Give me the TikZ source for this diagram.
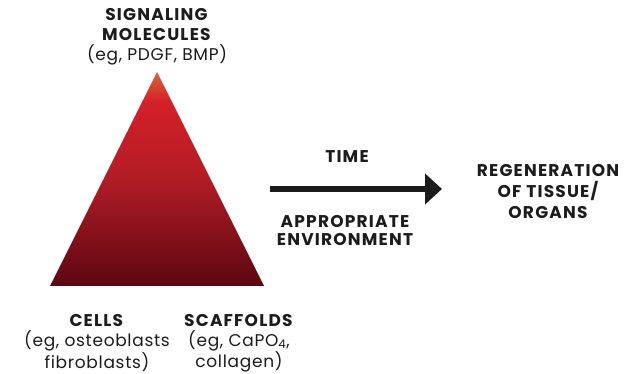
\documentclass[tikz,border=0pt]{standalone}
\usepackage{fontspec}
\setmainfont[UprightFeatures={LetterSpace=4}, BoldFeatures={LetterSpace=7}]{Poppins}
\usetikzlibrary{arrows.meta,positioning}
\definecolor{inkblack}{HTML}{1C1C1C}
\definecolor{redtip}{HTML}{D9643C}
\definecolor{redbright}{HTML}{D42028}
\definecolor{redmid}{HTML}{B11C25}
\definecolor{redbot}{HTML}{5C0711}
\pgfdeclareverticalshading{tri_red}{100bp}{color(0bp)=(redbot); color(25bp)=(redbot);
    color(50bp)=(redmid); color(68bp)=(redbright); color(75bp)=(redtip); color(100bp)=(redtip)}
\tikzset{
    label_text/.style = {align=center, text=inkblack, inner sep=0pt, font=\fontsize{17}{20}\selectfont},
    label_bold/.style = {label_text, font=\fontsize{17}{20}\selectfont\bfseries},
    big_arrow/.style = {-{Triangle[length=17pt, width=30pt]}, line width=6.5pt, draw=inkblack}
}
\begin{document}
\begin{tikzpicture}[x=1pt, y=-1pt]
    \useasboundingbox (0,0) rectangle (627,374);
    % TRIANGLE
    \coordinate (apex) at (157,72);
    \coordinate (base_left) at (50,286);
    \coordinate (base_right) at (264,286);
    \shade [shading=tri_red] (apex) -- (base_right) -- (base_left) -- cycle;
    % CORNER LABELS
    \node [label_text] (signaling) at (157,37) {\textbf{SIGNALING}\\\textbf{MOLECULES}\\(eg, PDGF, BMP)};
    \node [label_text] (cells) at (97,343) {\textbf{CELLS}\\(eg, osteoblasts\\fibroblasts)};
    \node [label_text] (scaffolds) at (239,343) {\textbf{SCAFFOLDS}\\(eg, CaPO\textsubscript{4},\\collagen)};
    % ARROW
    \coordinate (arrow_start) at (270,189);
    \coordinate (arrow_end) at (442,189);
    \draw [big_arrow] (arrow_start) -- (arrow_end);
    \node [label_bold] (time) at (347,157) {TIME};
    \node [label_bold, font=\fontsize{17}{18}\selectfont\bfseries] (environment) at (345,231) {APPROPRIATE\\ENVIRONMENT};
    \node [label_bold, font=\fontsize{17}{21}\selectfont\bfseries] (regeneration) at (548,192) {REGENERATION\\OF TISSUE/\\ORGANS};
\end{tikzpicture}
\end{document}
